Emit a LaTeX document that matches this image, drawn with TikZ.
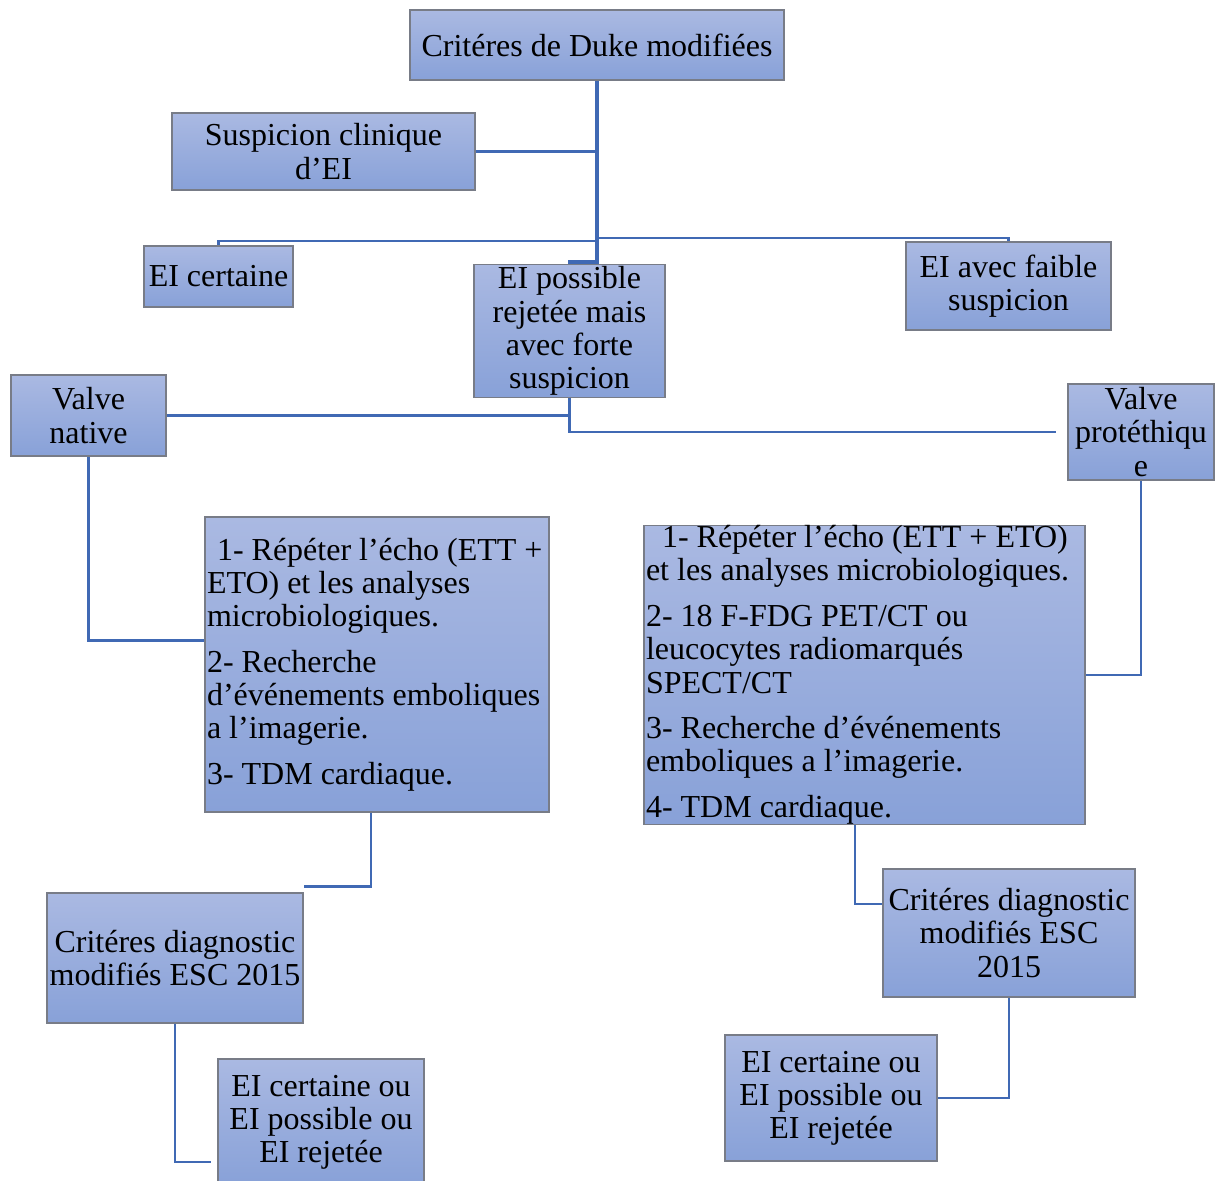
\documentclass[tikz,border=0pt]{standalone}
\usepackage{fontspec}
\setmainfont{Liberation Serif}
\usepackage{tikz}
\usetikzlibrary{calc, positioning}
\usepackage{xcolor}
\definecolor{boxTop}{RGB}{170, 185, 226}
\definecolor{boxBot}{RGB}{136, 161, 216}
\definecolor{boxLine}{RGB}{120, 124, 135}
\definecolor{linkBlue}{RGB}{64, 105, 180}

\tikzset{
  block/.style={draw=boxLine, line width=0.6pt, top color=boxTop, bottom color=boxBot,
    align=flush center, inner sep=1pt, font=\fontsize{16}{16.6}\selectfont},
  listblock/.style={block, align=flush left, inner ysep=0pt},
  link/.style={draw=linkBlue, line width=1.3pt},
  trunk/.style={draw=linkBlue, line width=2pt}
}

\begin{document}
\begin{tikzpicture}[x=0.5pt, y=-0.5pt]
  \useasboundingbox (0,0) rectangle (1216,1180);
  % top of the tree
  \node[block, minimum width=187pt, minimum height=35pt] (duke) at (597,45) {Critéres de Duke modifiées};
  \node[block, minimum width=151.5pt, minimum height=38.5pt] (susp) at (323.5,151.5) {Suspicion clinique\\d’EI};
  \node[block, minimum width=74.5pt, minimum height=30.5pt] (certaine) at (218.5,276.5) {EI certaine};
  \node[block, minimum width=95.5pt, minimum height=66pt] (possible) at (569.5,331) {EI possible\\rejetée mais\\avec forte\\suspicion};
  \node[block, minimum width=102.5pt, minimum height=44pt] (faible) at (1008.5,286) {EI avec faible\\suspicion};
  % valves
  \node[block, minimum width=77.5pt, minimum height=40.5pt] (native) at (88.5,415.5) {Valve\\native};
  \node[block, minimum width=73pt, minimum height=48pt] (prot) at (1141,432) {Valve\\protéthiqu\\e};
  % work-up lists
  \node[listblock, text width=170pt, minimum height=147.5pt] (listL) at (377,664.5)
    {\hspace{5pt}1- Répéter l’écho (ETT +\\ETO) et les analyses\\microbiologiques.\\[6.25pt]
     2- Recherche\\d’événements emboliques\\a l’imagerie.\\[6.25pt]
     3- TDM cardiaque.};
  \node[listblock, text width=218.5pt, minimum height=148pt] (listR) at (864.5,675)
    {\hspace{8pt}1- Répéter l’écho (ETT + ETO)\\et les analyses microbiologiques.\\[6.25pt]
     2- 18 F-FDG PET/CT ou\\leucocytes radiomarqués\\SPECT/CT\\[6.25pt]
     3- Recherche d’événements\\emboliques a l’imagerie.\\[6.25pt]
     4- TDM cardiaque.};
  % ESC criteria and outcomes
  \node[block, minimum width=128pt, minimum height=65pt] (escL) at (175,958) {Critéres diagnostic\\modifiés ESC 2015};
  \node[block, minimum width=126pt, minimum height=64pt] (escR) at (1009,933) {Critéres diagnostic\\modifiés ESC\\2015};
  \node[block, minimum width=103pt, minimum height=63pt] (finL) at (321,1122) {EI certaine ou\\EI possible ou\\EI rejetée};
  \node[block, minimum width=106pt, minimum height=63pt] (finR) at (831,1098) {EI certaine ou\\EI possible ou\\EI rejetée};

  % connectors
  \draw[trunk] (duke.south) -- (duke.south |- 0,262) -| (possible.north);
  \draw[link] (susp.east) -- (susp.east -| duke.south);
  \draw[link] (duke.south |- 0,241) -| (certaine.north);
  \draw[link] (duke.south |- 0,238) -| (faible.north);
  \draw[link] (possible.south) |- (native.east);
  \draw[link] (possible.south) |- ([xshift=-5.5pt]prot.west);
  \draw[link] (native.south) |- ([yshift=12pt]listL.west);
  \draw[link] (prot.south) |- (listR.east);
  \draw[link] ([xshift=-3pt]listL.south) |- ([yshift=3pt]escL.north east);
  \draw[link] (escL.south) |- ([xshift=-3pt, yshift=-20pt]finL.west);
  \draw[link] ([xshift=-4.75pt]listR.south) |- ([yshift=14.5pt]escR.west);
  \draw[link] (escR.south) |- (finR.east);
\end{tikzpicture}
\end{document}
